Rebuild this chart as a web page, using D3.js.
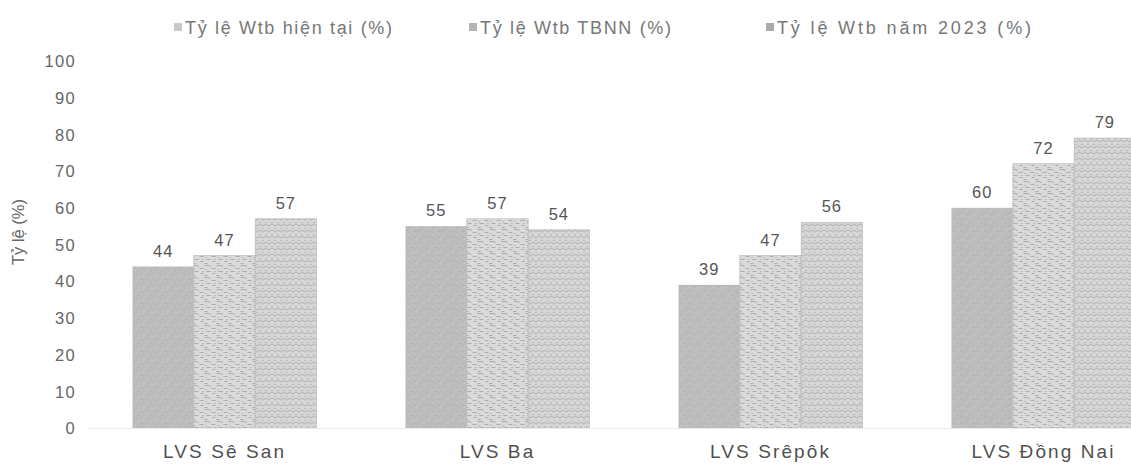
<!DOCTYPE html>
<html><head><meta charset="utf-8">
<script src="https://cdn.jsdelivr.net/npm/d3@7"></script>
<style>
html,body{margin:0;padding:0;background:#fff;overflow:hidden;}
text{font-family:"Liberation Sans",Arial,sans-serif;}
</style></head>
<body>
<svg id="chart" width="1131" height="464"></svg>
<script>
const categories = ["LVS Sê San", "LVS Ba", "LVS Srêpôk", "LVS Đồng Nai"];
const seriesNames = ["Tỷ lệ Wtb hiện tại (%)", "Tỷ lệ Wtb TBNN (%)", "Tỷ lệ Wtb năm 2023 (%)"];
const currentVals = [44, 55, 39, 60];
const tbnnVals = [47, 57, 47, 72];
const y2023Vals = [57, 54, 56, 79];
const yTicks = [0, 10, 20, 30, 40, 50, 60, 70, 80, 90, 100];
const yTitle = "Tỷ lệ (%)";

const series = [currentVals, tbnnVals, y2023Vals];
const svg = d3.select("#chart");
const defs = svg.append("defs");

// texture patterns (deterministic)
function pat(id, base, draw) {
  const p = defs.append("pattern").attr("id", id).attr("patternUnits", "userSpaceOnUse")
    .attr("width", 12).attr("height", 12);
  p.append("rect").attr("width", 12).attr("height", 12).attr("fill", base);
  draw(p);
}
pat("p0", "#bcbcbc", p => {
  [[1,2],[5,7],[9,3],[3,10],[8,9],[11,6]].forEach(([x,y]) =>
    p.append("rect").attr("x", x).attr("y", y).attr("width", 2).attr("height", 1).attr("fill", "#afafaf"));
  [[6,1],[2,6],[10,11]].forEach(([x,y]) =>
    p.append("rect").attr("x", x).attr("y", y).attr("width", 2).attr("height", 1).attr("fill", "#c9c9c9"));
});
pat("p1", "#dadada", p => {
  [[0,1,5],[7,4,4],[2,7,4],[8,9,3],[0,11,3]].forEach(([x,y,w]) =>
    p.append("rect").attr("x", x).attr("y", y).attr("width", w).attr("height", 1).attr("fill", "#ababab"));
  [[5,2],[1,5],[10,7]].forEach(([x,y]) =>
    p.append("rect").attr("x", x).attr("y", y).attr("width", 1).attr("height", 1).attr("fill", "#9c9c9c"));
});
pat("p2", "#d7d7d7", p => {
  p.append("path").attr("d", "M0,3 q1.5,-2 3,0 t3,0 t3,0 t3,0 M0,9 q1.5,-2 3,0 t3,0 t3,0 t3,0")
    .attr("fill", "none").attr("stroke", "#a8a8a8").attr("stroke-width", 0.9);
  [[1,6],[7,6],[4,0],[10,0]].forEach(([x,y]) =>
    p.append("rect").attr("x", x).attr("y", y).attr("width", 1).attr("height", 1).attr("fill", "#9c9c9c"));
});
const fills = ["url(#p0)", "url(#p1)", "url(#p2)"];
const legendFills = ["#c8c8c8", "#b4b4b4", "#aaaaaa"];

const y = d3.scaleLinear().domain([0, 100]).range([428, 61]);
const x0 = d3.scaleBand().domain(categories).range([88, 1180]).paddingInner(0.326).paddingOuter(0.163);
const x1 = d3.scaleBand().domain([0, 1, 2]).range([0, x0.bandwidth()]);

// y axis labels
const yAxis = d3.axisLeft(y).tickValues(yTicks).tickSize(0).tickPadding(0);
const yg = svg.append("g").attr("transform", "translate(76,0)").call(yAxis);
yg.select(".domain").remove();
yg.selectAll("text").attr("font-size", 16.5).attr("fill", "#666").attr("letter-spacing", "1.3px")
  .attr("font-family", "Liberation Sans, Arial, sans-serif").attr("dy", "0.35em");

svg.append("text").attr("transform", "translate(24,232) rotate(-90)")
  .attr("text-anchor", "middle").attr("font-size", 16.5).attr("fill", "#666").text(yTitle);

// bars
const groups = svg.append("g").selectAll("g").data(categories).join("g")
  .attr("transform", d => `translate(${x0(d)},0)`);
groups.selectAll("rect").data((c, i) => series.map((s, k) => ({k, v: s[i]})))
  .join("rect")
  .attr("x", d => x1(d.k)).attr("width", x1.bandwidth())
  .attr("y", d => y(d.v)).attr("height", d => y(0) - y(d.v))
  .attr("fill", d => fills[d.k])
  .attr("stroke", d => d.k === 0 ? "none" : "#b4b4b4").attr("stroke-width", 0.6);

groups.selectAll("text.val").data((c, i) => series.map((s, k) => ({k, v: s[i]})))
  .join("text").attr("class", "val")
  .attr("x", d => x1(d.k) + x1.bandwidth() / 2).attr("y", d => y(d.v) - 10)
  .attr("text-anchor", "middle").attr("font-size", 16.5).attr("fill", "#555").attr("letter-spacing", "1px")
  .text(d => d.v);

// baseline
svg.append("line").attr("x1", 88).attr("x2", 1180).attr("y1", y(0) + 0.5).attr("y2", y(0) + 0.5)
  .attr("stroke", "#ececec");

// x labels
const xAxis = d3.axisBottom(x0).tickSize(0).tickPadding(0);
const xg = svg.append("g").attr("transform", `translate(0,${y(0)})`).call(xAxis);
xg.select(".domain").remove();
xg.selectAll("text").attr("font-size", 19).attr("fill", "#505050").attr("letter-spacing", "2.1px")
  .attr("font-family", "Liberation Sans, Arial, sans-serif").attr("dy", "1.58em");

// legend
const legendX = [174, 469, 766];
const legendW = [207, 191, 254];
const lg = svg.append("g").selectAll("g").data(seriesNames).join("g")
  .attr("transform", (d, i) => `translate(${legendX[i]},28)`);
lg.append("rect").attr("x", 0).attr("y", -5).attr("width", 8).attr("height", 8)
  .attr("fill", (d, i) => legendFills[i]);
lg.append("text").attr("x", 11).attr("y", 0).attr("dy", "0.35em").attr("font-size", 18)
  .attr("fill", "#777").attr("textLength", (d, i) => legendW[i]).attr("lengthAdjust", "spacing")
  .text(d => d);
</script>
</body></html>
